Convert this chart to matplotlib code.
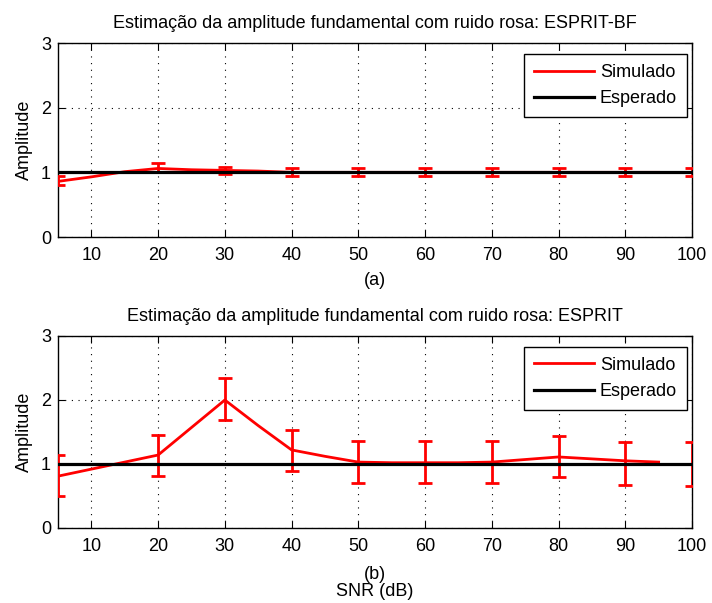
import numpy as np
import matplotlib
matplotlib.use("Agg")
import matplotlib.pyplot as plt

plt.rcParams['font.family'] = ['Liberation Sans', 'DejaVu Sans']

# SNR grid of the simulated curve
snr = [5, 10, 15, 20, 25, 30, 35, 40, 45, 50, 55, 60, 65, 70, 75, 80, 85, 90, 95]

# Panel (a): ESPRIT-BF
amp_bf = [0.86, 0.93, 1.01, 1.06, 1.04, 1.03, 1.02, 1.0, 1.0, 1.0,
          1.0, 1.0, 1.0, 1.0, 1.0, 1.0, 1.0, 1.0, 1.0]
err_x = [5, 20, 30, 40, 50, 60, 70, 80, 90, 100]
err_bf_mean = [0.87, 1.08, 1.03, 1.01, 1.01, 1.01, 1.01, 1.01, 1.01, 1.01]
err_bf_dev = [0.07, 0.07, 0.06, 0.06, 0.06, 0.06, 0.06, 0.06, 0.06, 0.06]

# Panel (b): ESPRIT
amp_es = [0.81, 0.92, 1.03, 1.14, 1.57, 2.0, 1.6, 1.22, 1.12, 1.03,
          1.02, 1.02, 1.02, 1.03, 1.07, 1.11, 1.08, 1.05, 1.03]
err_es_mean = [0.82, 1.14, 2.01, 1.21, 1.03, 1.03, 1.03, 1.11, 1.01, 1.0]
err_es_dev = [0.32, 0.32, 0.33, 0.32, 0.33, 0.33, 0.33, 0.32, 0.34, 0.34]

expected = 1.0
x_ticks = [10, 20, 30, 40, 50, 60, 70, 80, 90, 100]
y_ticks = [0, 1, 2, 3]


def draw_panel(ax, amp, emean, edev, title, xlabel, xpad):
    ax.plot(snr, amp, color='red', lw=2.0, label='Simulado', zorder=3)
    ax.errorbar(err_x, emean, yerr=edev, fmt='none', ecolor='red',
                elinewidth=2.0, capsize=4.7, capthick=2.0, zorder=3)
    ax.plot([5, 100], [expected, expected], color='black', lw=2.3,
            label='Esperado', zorder=4)
    ax.set_xlim(5, 100)
    ax.set_ylim(0, 3)
    ax.set_xticks(x_ticks)
    ax.set_yticks(y_ticks)
    ax.grid(True, color='black', linestyle=(0, (1, 5)), lw=0.8)
    ax.tick_params(direction='in', top=True, right=True, length=5,
                   labelsize=13)
    ax.tick_params(axis='x', pad=7)
    ax.tick_params(axis='y', pad=5)
    for s in ax.spines.values():
        s.set_linewidth(1.0)
    ax.set_title(title, fontsize=13, pad=11)
    ax.set_ylabel('Amplitude', fontsize=13, labelpad=6)
    ax.set_xlabel(xlabel, fontsize=13, labelpad=xpad, linespacing=1.05)
    leg = ax.legend(loc='upper right', bbox_to_anchor=(1 - 5 / 634, 1 - 11 / 194),
                    borderaxespad=0, fontsize=13, fancybox=False, framealpha=1,
                    edgecolor='black', handlelength=3.3, handletextpad=0.35,
                    borderpad=0.55, labelspacing=0.5)
    leg.get_frame().set_linewidth(1.0)


fig = plt.figure(figsize=(7.12, 6.03), dpi=100)
ax1 = fig.add_axes([58 / 712, 1 - 237 / 603, 634 / 712, 194 / 603])
ax2 = fig.add_axes([58 / 712, 1 - 528 / 603, 634 / 712, 192 / 603])

draw_panel(ax1, amp_bf, err_bf_mean, err_bf_dev,
           'Estimação da amplitude fundamental com ruido rosa: ESPRIT-BF', '(a)', 6)
draw_panel(ax2, amp_es, err_es_mean, err_es_dev,
           'Estimação da amplitude fundamental com ruido rosa: ESPRIT', '(b)\nSNR (dB)', 8)

plt.savefig('out.png', dpi=100)
plt.close()
